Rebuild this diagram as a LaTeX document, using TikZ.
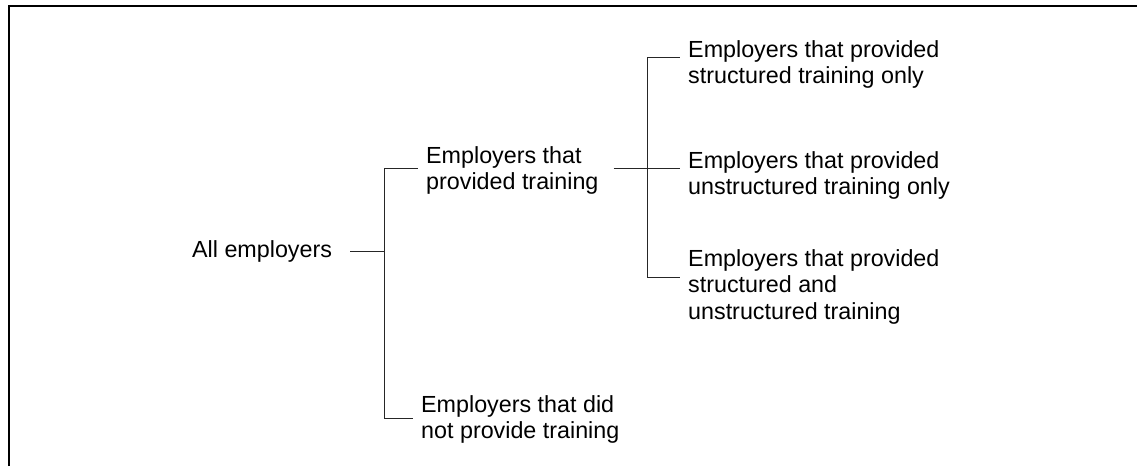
\documentclass[tikz,border=0pt]{standalone}
\usepackage{fontspec}
\setmainfont{Liberation Sans}
\usetikzlibrary{calc, positioning}

\begin{document}
\begin{tikzpicture}[x=1pt, y=-1pt,
      font=\fontsize{23.3}{26.5}\selectfont,
      box/.style  ={align=left, inner xsep=8pt, inner ysep=0pt},
      link/.style ={draw=black!85, line width=1pt},
      frame/.style={draw=black, line width=2.6pt, line join=miter}
    ]
    \useasboundingbox (0,0) rectangle (1137,466);

    % Rahmen oben und links
    \draw[frame] (9,466) -- (9,6) -- (1137,6);

    % Ebene 0 und 1
    \node[box, inner xsep=18pt, anchor=base west] (all) at (174,257) {All employers};
    \node[box, anchor=north west] (trained) at (418,146) {Employers that\\provided training};
    \node[box, anchor=north west] (none)    at (413,395) {Employers that did\\not provide training};

    % Ebene 2: Art des Trainings
    \node[box, anchor=north west] (struct)   at (680,40)  {Employers that provided\\structured training only};
    \node[box, anchor=north west] (unstruct) at (680,151) {Employers that provided\\unstructured training only};
    \node[box, anchor=north west] (both)     at (680,249) {Employers that provided\\structured and\\unstructured training};

    % Verzweigungspunkte
    \coordinate (sm) at (384,251);
    \coordinate (sa) at (384,168);
    \coordinate (sb) at (384,418);
    \coordinate (tm) at (647,168);
    \coordinate (ta) at (647,57);
    \coordinate (tb) at (647,277);

    % erste Klammer
    \draw[link] (all.east |- sm) -- (sm);
    \draw[link] (sa) -- (sb);
    \draw[link] (sa) -- (sa -| trained.west);
    \draw[link] (sb) -- (sb -| none.west);

    % zweite Klammer
    \draw[link] ($(tm -| trained.east)+(7,0)$) -- (tm);
    \draw[link] (ta) -- (tb);
    \draw[link] (ta) -- (ta -| struct.west);
    \draw[link] (tm) -- (tm -| unstruct.west);
    \draw[link] (tb) -- (tb -| both.west);
  \end{tikzpicture}
\end{document}
